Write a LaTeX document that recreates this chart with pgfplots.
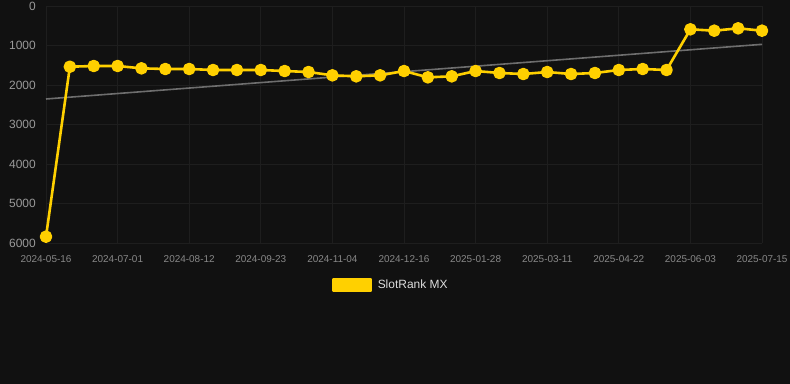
\documentclass[border=0pt]{standalone}
\usepackage{pgfplots}
\pgfplotsset{compat=1.18}
\usepackage{fontspec}
\setmainfont{Liberation Sans}
\definecolor{bg}{HTML}{111111}
\definecolor{gold}{HTML}{FFD000}
\definecolor{gridc}{HTML}{1E1E1E}
\definecolor{xtickc}{HTML}{888888}
\definecolor{ytickc}{HTML}{999999}
\definecolor{trend}{HTML}{6E6E6E}
\definecolor{legc}{HTML}{DDDDDD}
\pgfplotstableread{
x y
0 5840
1 1537
2 1519
3 1519
4 1578
5 1595
6 1595
7 1620
8 1620
9 1620
10 1646
11 1671
12 1755
13 1780
14 1755
15 1646
16 1806
17 1780
18 1646
19 1696
20 1722
21 1671
22 1722
23 1696
24 1620
25 1595
26 1620
27 590
28 625
29 565
30 625
}\slotdata
\begin{document}
\begin{tikzpicture}
\fill[bg] (0,0) rectangle (790bp,384bp);
\begin{axis}[
  at={(46bp,141bp)}, anchor=south west,
  scale only axis, width=716bp, height=237bp,
  xmin=0, xmax=30, ymin=0, ymax=6000, y dir=reverse,
  xtick={0,3,...,30},
  xticklabels={2024-05-16,2024-07-01,2024-08-12,2024-09-23,2024-11-04,2024-12-16,2025-01-28,2025-03-11,2025-04-22,2025-06-03,2025-07-15},
  ytick={0,1000,...,6000},
  grid=major, major grid style={gridc, line width=0.8bp},
  axis line style={draw=none}, tick style={draw=none},
  /pgf/number format/assume math mode=true,
  scaled y ticks=false,
  yticklabel style={/pgf/number format/1000 sep={}, font=\fontsize{12}{14}\selectfont, text=ytickc, inner sep=0pt, xshift=-10bp},
  xticklabel style={font=\fontsize{10}{12}\selectfont, text=xtickc, inner sep=0pt, yshift=-12bp},
  clip=false,
  legend style={draw=none, fill=none, inner sep=0pt, font=\fontsize{12}{14}\selectfont, text=legc,
    at={(axis description cs:0.3994,-0.177)}, anchor=west,
    nodes={inner sep=0pt}},
  legend image code/.code={\fill[gold] (0bp,-6bp) rectangle (37.5bp,6bp); \path (43bp,0bp);},
]
\addplot[trend, line width=1.6bp, forget plot] coordinates {(0,2354) (30,970)};
\addplot[gold, line width=2.6bp, line join=round, mark=*, mark size=5bp, mark options={fill=gold, draw=none}] table[x=x,y=y] {\slotdata};
\addlegendentry{SlotRank MX}
\end{axis}
\end{tikzpicture}
\end{document}
